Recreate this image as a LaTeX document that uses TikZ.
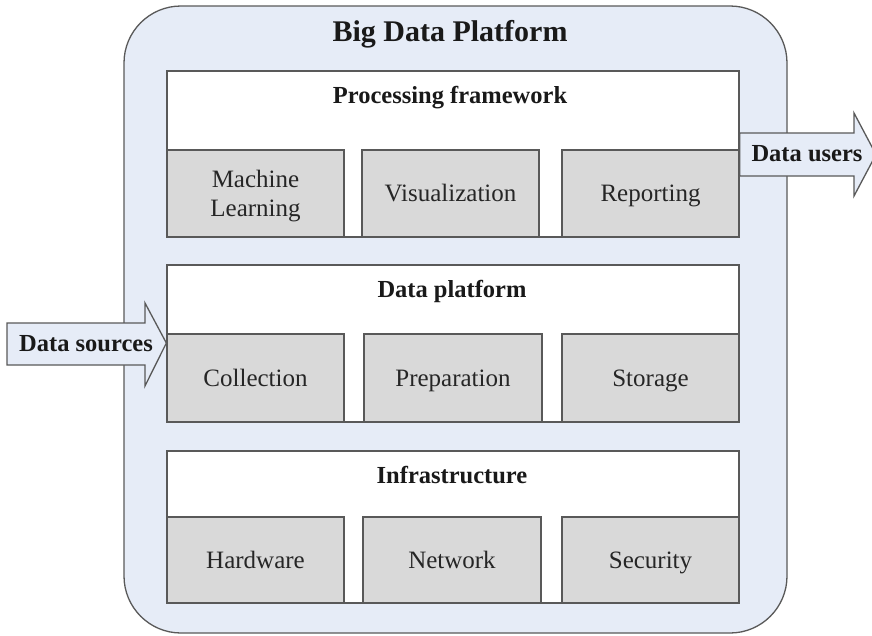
\documentclass[tikz,border=0pt]{standalone}
\usepackage{fontspec}
\setmainfont{Liberation Serif}
\begin{document}
\begin{tikzpicture}[x=1pt,y=-1pt,
  edge/.style={draw=black!65, line width=1.3pt},
  outerbox/.style={edge, fill=platformblue, rounded corners=57pt},
  layerbox/.style={edge, fill=white},
  subbox/.style={edge, fill=subgray, align=center, text=black!85,
    font=\fontsize{25}{29}\selectfont, inner sep=0pt,
    text height=20pt, text depth=4pt},
  heading/.style={font=\fontsize{24.5}{28}\selectfont\bfseries, text=black!90,
    inner sep=0pt, anchor=base},
  bigarrow/.style={edge, fill=platformblue, line join=miter}
]
\definecolor{platformblue}{HTML}{E6ECF7}
\definecolor{subgray}{HTML}{D9D9D9}
\useasboundingbox (0,0) rectangle (872,635);

% platform frame
\node[outerbox, minimum width=663pt, minimum height=627pt] (platform) at (455.5,319.5) {};
\node[heading, font=\fontsize{30}{34}\selectfont\bfseries] (ptitle) at (450,41.5) {Big Data Platform};

% processing framework layer
\node[layerbox, minimum width=572pt, minimum height=166pt] (proc) at (453,154) {};
\node[heading] (proct) at (450,103) {Processing framework};
\node[subbox, minimum width=177pt, minimum height=87pt, text height=49pt] (ml) at (255.5,193.5) {Machine\\Learning};
\node[subbox, minimum width=177pt, minimum height=87pt] (vis) at (450.5,193.5) {Visualization};
\node[subbox, minimum width=177pt, minimum height=87pt] (rep) at (650.5,193.5) {Reporting};

% data platform layer
\node[layerbox, minimum width=572pt, minimum height=157pt] (dplat) at (453,343.5) {};
\node[heading] (dplatt) at (452,297) {Data platform};
\node[subbox, minimum width=177pt, minimum height=88pt] (col) at (255.5,378) {Collection};
\node[subbox, minimum width=178pt, minimum height=88pt] (prep) at (453,378) {Preparation};
\node[subbox, minimum width=177pt, minimum height=88pt] (sto) at (650.5,378) {Storage};

% infrastructure layer
\node[layerbox, minimum width=572pt, minimum height=152pt] (infra) at (453,527) {};
\node[heading] (infrat) at (452,483) {Infrastructure};
\node[subbox, minimum width=177pt, minimum height=86pt] (hw) at (255.5,560) {Hardware};
\node[subbox, minimum width=178pt, minimum height=86pt] (net) at (452,560) {Network};
\node[subbox, minimum width=177pt, minimum height=86pt] (sec) at (650.5,560) {Security};

% incoming data
\coordinate (srctip) at (dplat.west |- 0,343);
\draw[bigarrow] (7,323) -- (145,323) -- (145,303) -- (srctip) -- (145,386) -- (145,365) -- (7,365) -- cycle;
\node[heading] (src) at (86,351) {Data sources};

% outgoing data
\coordinate (usrbase) at (proc.east |- 0,133);
\draw[bigarrow] (usrbase) -- (854,133) -- (854,113) -- (876,154.5) -- (854,196) -- (854,176) -- (proc.east |- 0,176) -- cycle;
\node[heading] (usr) at (807,161.5) {Data users};
\end{tikzpicture}
\end{document}
